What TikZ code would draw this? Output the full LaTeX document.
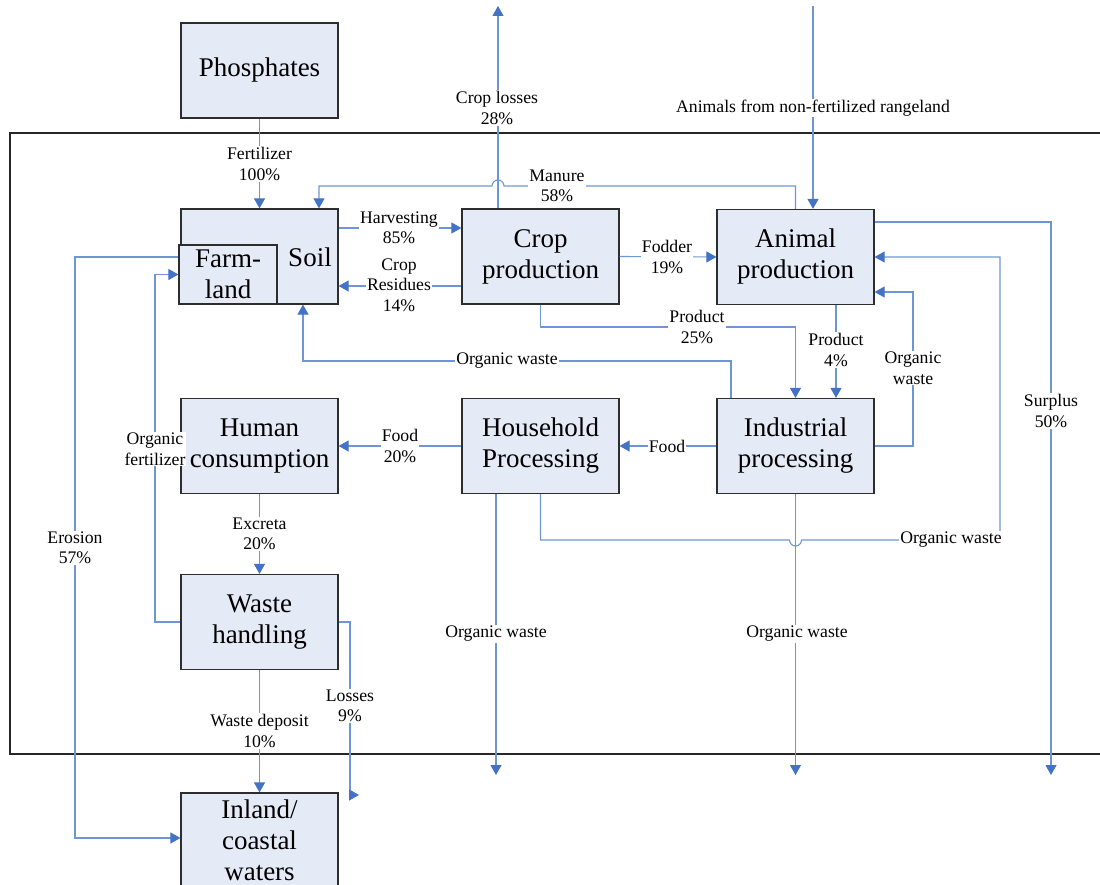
\documentclass[tikz,border=0pt]{standalone}
\usepackage{fontspec}
\setmainfont{Liberation Serif}
\usetikzlibrary{arrows.meta,calc}
\definecolor{boxfill}{RGB}{229,235,246}
\definecolor{boxdraw}{RGB}{45,45,45}
\definecolor{lineblue}{RGB}{110,150,215}
\definecolor{tipblue}{RGB}{68,114,196}
\tikzset{
  box/.style={draw=boxdraw, line width=1.2pt, fill=boxfill, minimum width=157pt, minimum height=95pt, inner sep=0pt, align=center, font=\fontsize{27}{31}\selectfont},
  conn/.style={draw=lineblue, line width=1.1pt},
  arr/.style={conn, -{Triangle[length=10pt,width=11pt,color=tipblue]}},
  lbl/.style={fill=white, inner sep=1pt, align=center, font=\fontsize{17.7}{20.5}\selectfont},
  bigtxt/.style={inner sep=0pt, align=center, font=\fontsize{27}{31}\selectfont}
}
\begin{document}
\begin{tikzpicture}[x=1pt,y=-1pt]
\useasboundingbox (0,0) rectangle (1100,885);
% frame
\draw[line width=1.5pt, color=black!85] (10,133) rectangle (1120,754);
% boxes
\node[box] (phos) at (259.5,70.5) {Phosphates};
\node[box] (soil) at (259.5,256.5) {};
\node[bigtxt] (soiltxt) at (310,257) {Soil};
\node[box, minimum width=98pt, minimum height=59pt] (farm) at (228,274.5) {Farm-\\land};
\node[box] (crop) at (540.5,256.5) {Crop\\production};
\node[box] (animal) at (795.5,257) {Animal\\production};
\node[box] (human) at (259.5,446) {Human\\consumption};
\node[box] (house) at (540.5,446) {Household\\Processing};
\node[box] (indus) at (795.5,446) {Industrial\\processing};
\node[box] (waste) at (259.5,622) {Waste\\handling};
\node[box, minimum height=100pt] (inland) at (259.5,843) {};
\node[bigtxt] (inlandtxt) at (259.5,840) {Inland/\\coastal\\waters};
% free ends
\coordinate (cl) at (498,6);
\coordinate (ar) at (813,6);
\coordinate (ow1) at (496,775);
\coordinate (ow2) at (795.5,775);
\coordinate (sur) at (1051,775);
\coordinate (los) at (359,795);
% fertilizer
\draw[arr] (phos) -- (soil);
\node[lbl] (lfert) at (259.5,164) {Fertilizer\\100\%};
% manure
\draw[arr] (animal.north) -- (795.5,186) -- (504,186) arc[start angle=0,end angle=-180,radius=6] -- (319,186) -- ([xshift=59.5pt]soil.north);
\node[lbl] (lman) at (557,186) {Manure\\58\%};
% crop losses
\draw[arr] ([xshift=-42.5pt]crop.north) -- (cl);
\node[lbl] (lcl) at (497,108) {Crop losses\\28\%};
% animals from rangeland
\draw[arr] (ar) -- (animal.north -| ar);
\node[lbl] (lar) at (813,108) {Animals from non-fertilized rangeland};
% harvesting
\draw[arr] ([yshift=28.5pt]soil.east) -- ([yshift=28.5pt]crop.west);
\node[lbl] (lharv) at (399,228) {Harvesting\\85\%};
% crop residues
\draw[arr] ([yshift=-29.5pt]crop.west) -- ([yshift=-29.5pt]soil.east);
\node[lbl] (lres) at (399,285) {Crop\\Residues\\14\%};
% fodder
\draw[arr] (crop.east) -- (animal.west);
\node[lbl] (lfod) at (667,257) {Fodder\\19\%};
% product 25
\draw[arr] (crop.south) -- (540.5,327) -| (indus.north);
\node[lbl] (lp25) at (697,327) {Product\\25\%};
% product 4
\draw[arr] ([xshift=40.5pt]animal.south) -- ([xshift=40.5pt]indus.north);
\node[lbl] (lp4) at (836,350) {Product\\4\%};
% organic waste indus -> animal
\draw[arr] (indus.east) -- (913,446) -- (913,292) -- ([yshift=-35pt]animal.east);
\node[lbl] (lowa) at (913,368) {Organic\\waste};
% organic waste indus -> soil
\draw[arr] ([xshift=-64.5pt]indus.north) -- (731,361) -- (303,361) -- ([xshift=43.5pt]soil.south);
\node[lbl] (lows) at (507,361) {Organic waste};
% food
\draw[arr] (indus.west) -- (house.east);
\node[lbl] (lfood1) at (667,446) {Food};
\draw[arr] (house.west) -- (human.east);
\node[lbl] (lfood2) at (400,446) {Food\\20\%};
% organic waste house -> animal
\draw[arr] (house.south) -- (540.5,540) -- (789.5,540) arc[start angle=180,end angle=0,radius=6] -- (1000,540) -- (1000,257) -- (animal.east);
\node[lbl] (lowh) at (951,540) {Organic waste};
% surplus
\draw[arr] ([yshift=35pt]animal.east) -- (1051,222) -- (sur);
\node[lbl] (lsur) at (1051,411) {Surplus\\50\%};
% organic waste down
\draw[arr] ([xshift=-44.5pt]house.south) -- (ow1);
\node[lbl] (low1) at (496,634) {Organic waste};
\draw[arr] (indus.south) -- (ow2);
\node[lbl] (low2) at (797,634) {Organic waste};
% excreta
\draw[arr] (human.south) -- (waste.north);
\node[lbl] (lexc) at (259.5,534) {Excreta\\20\%};
% organic fertilizer
\draw[arr] (waste.west) -- (155,622) -- (155,274.5) -- (farm.west);
\node[lbl] (lofert) at (155,449) {Organic\\fertilizer};
% erosion
\draw[arr] ([yshift=17.5pt]farm.west) -- (75,257) -- (75,838) -- ([yshift=5pt]inland.west);
\node[lbl] (lero) at (75,548) {Erosion\\57\%};
% waste deposit
\draw[arr] (waste.south) -- (inland.north);
\node[lbl] (lwd) at (259.5,731) {Waste deposit\\10\%};
% losses
\draw[arr] (waste.east) -- (350,622) -- (350,795) -- (los);
\node[lbl] (llos) at (350,706) {Losses\\9\%};
\end{tikzpicture}
\end{document}
